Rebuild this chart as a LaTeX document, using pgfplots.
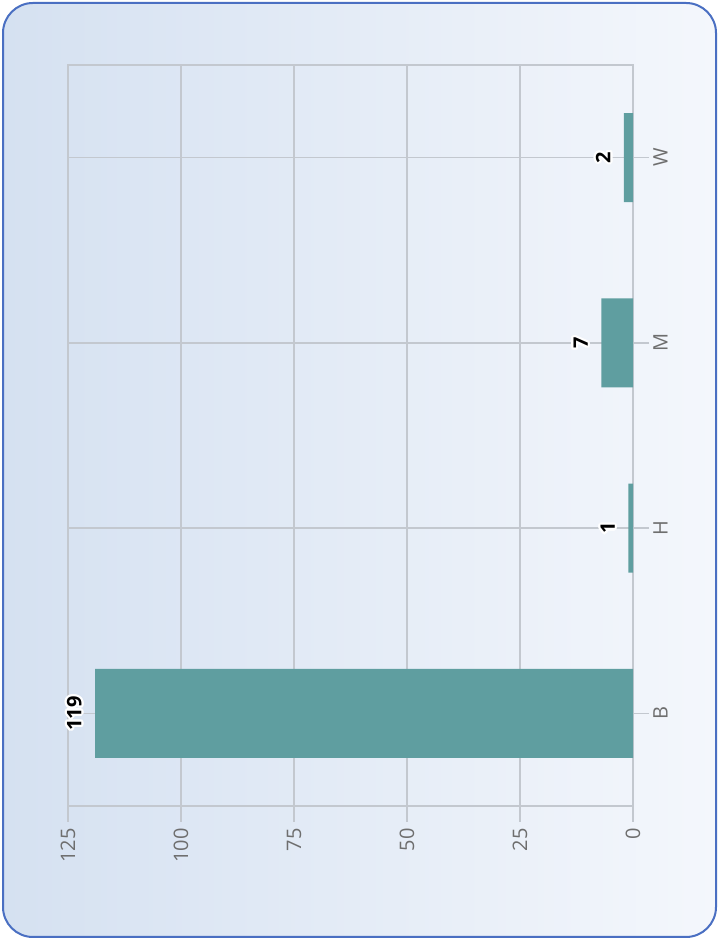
\documentclass[border=0pt]{standalone}
\usepackage{pgfplots}
\pgfplotsset{compat=1.18}
\usepackage{fontspec}
\setmainfont{Open Sans}
\usepackage{contour}
\contourlength{1.1pt}
\definecolor{barc}{HTML}{5F9EA0}
\definecolor{bgL}{HTML}{D5E1F1}
\definecolor{bgR}{HTML}{F4F7FC}
\definecolor{bord}{HTML}{4A6FC2}
\definecolor{gridc}{HTML}{C3C8CF}
\definecolor{tickc}{HTML}{6E6E6E}
\begin{document}
\begin{tikzpicture}
\path[use as bounding box] (0,0) rectangle (359.5pt,470.5pt);
\shade[left color=bgL, right color=bgR, rounded corners=15pt] (1.5pt,2pt) rectangle (358pt,469pt);
\draw[bord, line width=1pt, rounded corners=15pt] (1.5pt,2pt) rectangle (358pt,469pt);
\begin{axis}[
  at={(175.25pt,252.75pt)}, anchor=center,
  scale only axis, width=282.5pt, height=370.5pt,
  xbar, bar width=44.5pt,
  x dir=reverse,
  xmin=0, xmax=125, ymin=-0.5, ymax=3.5,
  xtick={0,25,...,125},
  ytick={0,1,2,3}, yticklabels={B,H,M,W},
  yticklabel pos=right,
  /pgf/number format/assume math mode=true,
  grid=major,
  major grid style={gridc, line width=0.75pt},
  axis line style={gridc, line width=0.75pt},
  tick align=outside,
  major tick length=8pt,
  tick style={gridc, line width=0.75pt},
  xtick pos=bottom,
  ytick pos=right,
  xticklabel style={rotate=90, anchor=east, font=\fontsize{10}{12}\selectfont, text=tickc, inner sep=3pt},
  yticklabel style={rotate=90, anchor=north, font=\fontsize{10}{12}\selectfont, text=tickc, inner sep=2pt},
  clip=false,
]
\addplot[fill=barc, draw=none,
  nodes near coords={\contour{white}{\pgfmathprintnumber{\pgfplotspointmeta}}},
  every node near coord/.append style={rotate=90, anchor=south, inner sep=5.5pt, font=\bfseries\fontsize{10}{12}\selectfont, text=black},
] coordinates {(119,0) (1,1) (7,2) (2,3)};
\end{axis}
\end{tikzpicture}
\end{document}
